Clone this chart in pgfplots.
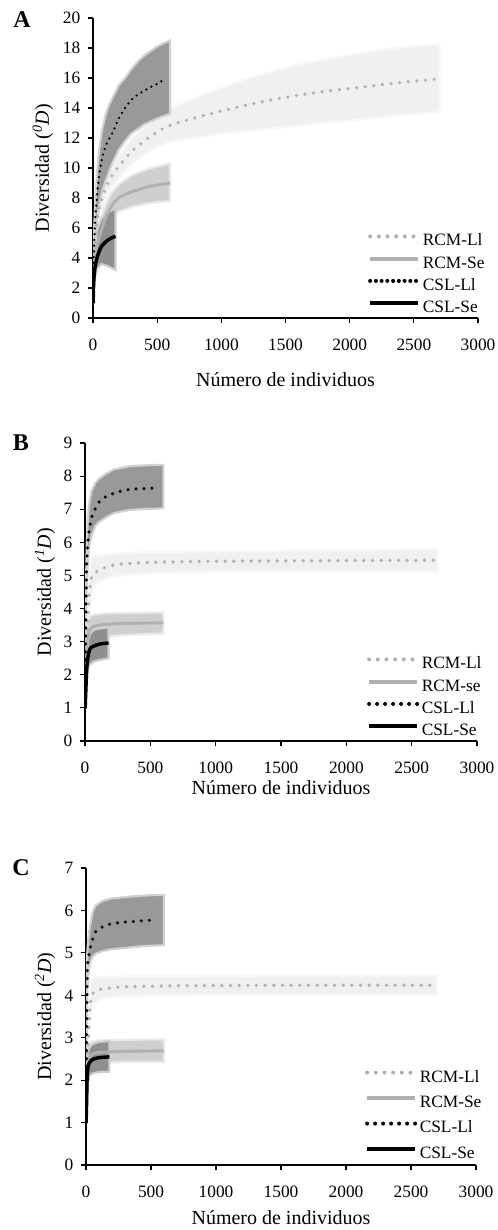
\documentclass[border=0pt]{standalone}
\usepackage{fontspec}
\setmainfont{Liberation Serif}
\usepackage{pgfplots}
\pgfplotsset{compat=1.18}
\usepackage{pgfplotstable}
\usepgfplotslibrary{fillbetween}

\definecolor{bandRL}{gray}{0.94}
\definecolor{bandRS}{gray}{0.81}
\definecolor{bandCL}{gray}{0.60}
\definecolor{bandCS}{gray}{0.56}
\definecolor{lineRL}{gray}{0.69}
\definecolor{lineRS}{gray}{0.69}

% ---- panel A (0D) ----
\pgfplotstableread{
x y lo hi
1 1.0 1.0 1.0
5 3.0 2.6 3.4
10 4.2 3.7 4.7
20 5.4 4.8 6.0
40 6.9 6.3 7.5
60 7.7 7.1 8.3
80 8.2 7.55 8.85
100 8.7 8.0 9.4
150 9.5 8.75 10.25
200 10.1 9.3 10.9
300 11.1 10.2 12.0
400 11.8 10.85 12.75
500 12.4 11.4 13.4
600 12.85 11.75 13.95
800 13.35 12.0 14.7
1000 13.8 12.3 15.35
1200 14.2 12.45 15.95
1400 14.55 12.65 16.45
1600 14.85 12.8 16.9
1800 15.1 13.0 17.25
2000 15.3 13.15 17.55
2200 15.5 13.35 17.85
2400 15.7 13.5 18.05
2700 15.95 13.75 18.3
}\aRL
\pgfplotstableread{
x y lo hi
1 1.0 1.0 1.0
5 2.7 2.3 3.1
10 3.6 3.1 4.2
25 4.7 4.0 5.5
50 5.4 4.6 6.3
75 6.1 5.3 7.0
100 6.7 5.9 7.6
140 7.4 6.6 8.3
200 8.0 7.1 8.9
300 8.4 7.4 9.5
430 8.75 7.65 9.95
600 9.0 7.8 10.3
}\aRS
\pgfplotstableread{
x y lo hi
1 1.0 1.0 1.0
5 3.8 3.0 4.6
10 5.2 4.2 6.2
20 6.9 5.5 8.2
30 8.0 6.4 9.5
40 8.9 7.1 10.5
50 9.6 7.6 11.3
70 10.6 8.4 12.5
100 11.5 9.2 13.6
130 12.0 9.9 14.3
160 12.5 10.5 14.8
200 13.3 11.2 15.5
250 14.0 11.8 16.0
300 14.55 12.3 16.6
350 14.9 12.6 17.1
400 15.15 12.9 17.5
450 15.4 13.1 17.8
500 15.6 13.3 18.1
545 15.85 13.45 18.3
600 nan 13.6 18.5
}\aCL
\pgfplotstableread{
x y lo hi
1 1.0 1.0 1.0
5 2.3 2.0 2.8
13 3.2 2.5 4.3
20 3.6 2.9 5.0
34 4.1 3.3 5.9
65 4.75 3.6 6.6
117 5.2 3.45 7.05
175 5.45 3.2 7.3
}\aCS

% ---- panel B (1D) ----
\pgfplotstableread{
x y lo hi
1 1.0 1.0 1.0
10 2.3 1.9 2.8
20 3.5 2.9 4.2
30 4.3 3.6 5.1
40 4.7 4.1 5.45
50 4.95 4.45 5.55
60 5.02 4.55 5.58
100 5.15 4.8 5.6
160 5.25 4.9 5.63
225 5.32 4.97 5.66
290 5.35 5.0 5.68
420 5.38 5.05 5.7
550 5.4 5.07 5.71
800 5.42 5.1 5.72
1000 5.43 5.11 5.73
1500 5.44 5.12 5.75
2000 5.45 5.12 5.77
2700 5.46 5.12 5.8
}\bRL
\pgfplotstableread{
x y lo hi
1 1.0 1.0 1.0
5 2.0 1.7 2.4
10 2.7 2.2 3.2
20 3.1 2.6 3.6
40 3.38 2.95 3.78
80 3.48 3.07 3.82
150 3.52 3.15 3.85
300 3.55 3.2 3.87
600 3.57 3.25 3.88
}\bRS
\pgfplotstableread{
x y lo hi
1 1.0 1.0 1.0
2 1.5 1.4 1.6
4 2.7 2.4 3.0
6 3.6 3.2 4.0
9 4.5 4.0 5.0
13 5.3 4.6 5.9
20 5.9 5.3 6.6
30 6.3 5.8 7.1
40 6.55 6.0 7.35
50 6.75 6.2 7.55
80 7.03 6.5 7.8
110 7.23 6.62 7.93
160 7.38 6.75 8.07
220 7.48 6.88 8.2
280 7.55 6.93 8.25
345 7.6 6.98 8.3
420 7.62 7.0 8.32
550 7.64 7.02 8.34
600 nan 7.03 8.34
}\bCL
\pgfplotstableread{
x y lo hi
1 1.0 1.0 1.0
5 1.4 1.2 1.6
8 1.7 1.4 2.1
12 2.1 1.75 2.5
18 2.4 2.05 2.8
25 2.6 2.2 3.05
38 2.78 2.3 3.22
64 2.86 2.4 3.35
115 2.93 2.45 3.4
180 2.96 2.5 3.43
}\bCS

% ---- panel C (2D) ----
\pgfplotstableread{
x y lo hi
1 1.0 1.0 1.0
10 2.3 1.9 2.7
20 3.1 2.6 3.6
30 3.7 3.2 4.25
40 3.95 3.55 4.38
60 4.07 3.8 4.42
120 4.15 3.93 4.44
185 4.17 3.96 4.44
313 4.2 3.98 4.45
900 4.23 4.0 4.46
2700 4.24 4.0 4.47
}\cRL
\pgfplotstableread{
x y lo hi
1 1.0 1.0 1.0
10 2.0 1.7 2.3
20 2.45 2.1 2.8
40 2.6 2.33 2.9
100 2.65 2.41 2.94
300 2.68 2.43 2.95
600 2.69 2.43 2.96
}\cRS
\pgfplotstableread{
x y lo hi
1 1.0 1.0 1.0
3 2.2 2.0 2.4
5 3.3 3.0 3.6
8 4.2 3.8 4.6
10 4.6 4.1 5.0
15 4.85 4.35 5.25
24 4.97 4.6 5.5
31 5.1 4.75 5.62
49 5.3 4.9 5.95
75 5.5 4.98 6.12
126 5.61 5.04 6.22
185 5.68 5.08 6.28
249 5.71 5.1 6.3
313 5.73 5.12 6.32
377 5.74 5.14 6.34
441 5.76 5.16 6.35
505 5.77 5.17 6.36
600 nan 5.18 6.37
}\cCL
\pgfplotstableread{
x y lo hi
1 1.0 1.0 1.0
5 1.55 1.35 1.8
8 2.0 1.7 2.35
15 2.3 1.95 2.65
25 2.4 2.08 2.75
40 2.47 2.14 2.82
60 2.5 2.17 2.86
100 2.53 2.19 2.9
180 2.55 2.2 2.92
}\cCS

% confidence band from the lo/hi columns (soft edge via a lighter stroke)
\newcommand{\band}[3]{%
  \addplot[draw=none, forget plot, name path=#3hi] table[x=x, y=hi] {#1};
  \addplot[draw=none, forget plot, name path=#3lo] table[x=x, y=lo] {#1};
  \addplot[fill=#2, draw=#2!45!white, line width=1.6pt, forget plot] fill between[of=#3hi and #3lo];
}
\newcommand{\legfont}{\fontsize{13}{15}\selectfont}

\pgfplotsset{
  panel/.style={
    scale only axis,
    axis lines=left,
    axis line style={-, line width=1.1pt},
    tick style={black, line width=0.8pt},
    tick align=outside,
    major tick length=4pt,
    xmin=0, xmax=3000, xtick={0,500,...,3000}, ymin=0,
    tick label style={font=\fontsize{13}{15}\selectfont},
    label style={font=\fontsize{15}{17}\selectfont},
    xticklabel style={yshift=-8.5pt},
    yticklabel style={xshift=-2pt},
    /pgf/number format/assume math mode=true,
    /pgf/number format/1000 sep={},
    xlabel={Número de individuos},
    legend style={draw=none, fill=none, anchor=south west, inner sep=0pt,
      column sep=2pt,
      nodes={inner sep=0pt, text height=9pt, text depth=2.5pt},
      cells={anchor=west}},
    legend cell align=left,
    legend image code/.code={\draw[##1, line width=3pt] (0pt,3.8pt) -- (36pt,3.8pt);},
  },
  dotgray/.style={lineRL, line width=#1, line cap=round, dash pattern=on 0pt off 6.5pt, smooth},
}

\begin{document}
\begin{tikzpicture}

% ---------- A ----------
\begin{axis}[panel, at={(69.75pt,-238.5pt)}, anchor=south west,
  width=288.75pt, height=225pt, ymax=20, ytick={0,2,...,20},
  ylabel={Diversidad (\textit{\textsuperscript{0}D})},
  ylabel style={at={(axis description cs:-0.13,0.5)}, anchor=center},
  xlabel style={at={(axis description cs:0.5,-0.207)}, anchor=center},
  legend style={at={(0.714,0.006)}, row sep=5.2pt}]
\band{\aRL}{bandRL}{arl}
\band{\aRS}{bandRS}{ars}
\band{\aCL}{bandCL}{acl}
\band{\aCS}{bandCS}{acs}
\addplot[dotgray=2.7pt] table[x=x, y=y] {\aRL};
\addplot[lineRS, line width=2.2pt, smooth] table[x=x, y=y] {\aRS};
\addplot[black, line width=1.9pt, line cap=round, dash pattern=on 0pt off 4.3pt, smooth] table[x=x, y=y] {\aCL};
\addplot[black, line width=2.6pt, smooth] table[x=x, y=y] {\aCS};
\legend{{\legfont RCM-Ll}, {\legfont RCM-Se}, {\legfont CSL-Ll}, {\legfont CSL-Se}}
\end{axis}

% ---------- B ----------
\begin{axis}[panel, at={(63.75pt,-555.75pt)}, anchor=south west,
  width=294pt, height=223.5pt, ymax=9, ytick={0,1,...,9},
  ylabel={Diversidad (\textit{\textsuperscript{1}D})},
  ylabel style={at={(axis description cs:-0.102,0.5)}, anchor=center},
  xlabel style={at={(axis description cs:0.5,-0.158)}, anchor=center},
  legend style={at={(0.719,0.006)}, row sep=5.2pt}]
\band{\bRL}{bandRL}{brl}
\band{\bRS}{bandRS}{brs}
\band{\bCL}{bandCL}{bcl}
\band{\bCS}{bandCS}{bcs}
\addplot[dotgray=2.8pt] table[x=x, y=y] {\bRL};
\addplot[lineRS, line width=2.2pt, smooth] table[x=x, y=y] {\bRS};
\addplot[black, line width=2.6pt, line cap=round, dash pattern=on 0pt off 6pt, smooth] table[x=x, y=y] {\bCL};
\addplot[black, line width=2.6pt, smooth] table[x=x, y=y] {\bCS};
\legend{{\legfont RCM-Ll}, {\legfont RCM-se}, {\legfont CSL-Ll}, {\legfont CSL-Se}}
\end{axis}

% ---------- C ----------
\begin{axis}[panel, at={(64.5pt,-873.75pt)}, anchor=south west,
  width=292.5pt, height=222.75pt, ymax=7, ytick={0,1,...,7},
  ylabel={Diversidad (\textit{\textsuperscript{2}D})},
  ylabel style={at={(axis description cs:-0.105,0.5)}, anchor=center},
  xlabel style={at={(axis description cs:0.5,-0.178)}, anchor=center},
  legend style={at={(0.715,0.01)}, row sep=7.6pt}]
\band{\cRL}{bandRL}{crl}
\band{\cRS}{bandRS}{crs}
\band{\cCL}{bandCL}{ccl}
\band{\cCS}{bandCS}{ccs}
\addplot[dotgray=2.8pt] table[x=x, y=y] {\cRL};
\addplot[lineRS, line width=2.2pt, smooth] table[x=x, y=y] {\cRS};
\addplot[black, line width=2.6pt, line cap=round, dash pattern=on 0pt off 6pt, smooth] table[x=x, y=y] {\cCL};
\addplot[black, line width=2.6pt, smooth] table[x=x, y=y] {\cCS};
\legend{{\legfont RCM-Ll}, {\legfont RCM-Se}, {\legfont CSL-Ll}, {\legfont CSL-Se}}
\end{axis}

\node[font=\bfseries\fontsize{18}{20}\selectfont] at (16.5pt,-15pt) {A};
\node[font=\bfseries\fontsize{18}{20}\selectfont] at (15.75pt,-332.25pt) {B};
\node[font=\bfseries\fontsize{18}{20}\selectfont] at (15.75pt,-651pt) {C};

\pgfresetboundingbox
\path[use as bounding box] (0,0) rectangle (372.75pt,-922.5pt);
\end{tikzpicture}
\end{document}
